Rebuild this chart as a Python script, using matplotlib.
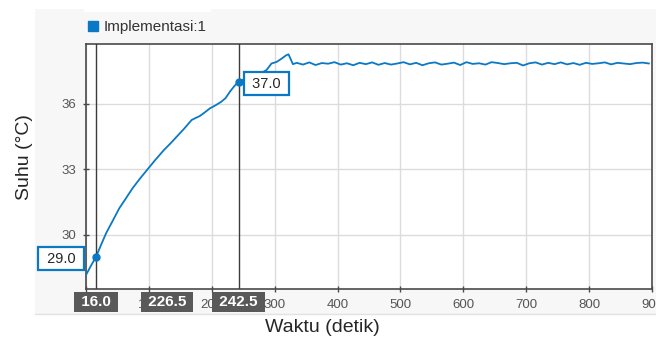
import matplotlib.pyplot as plt
from matplotlib.lines import Line2D
from matplotlib.patches import Rectangle
import matplotlib.transforms as mtransforms

plt.rcParams['font.family'] = ['Liberation Sans', 'DejaVu Sans']

# Data suhu
nama_seri = 'Implementasi:1'
waktu_naik = [0, 8, 16, 24, 32, 42, 53, 63, 74, 86, 98, 110, 124, 135, 144, 156,
              168, 175, 181, 189, 197, 206, 215, 222, 229, 236, 242.5, 255, 270,
              282, 287, 295, 303, 311, 318, 322, 329]
suhu_naik = [28.17, 28.6, 29.0, 29.55, 30.08, 30.62, 31.22, 31.65, 32.13, 32.58,
             33.0, 33.42, 33.88, 34.2, 34.48, 34.85, 35.25, 35.35, 35.43, 35.6,
             35.78, 35.92, 36.08, 36.25, 36.55, 36.8, 37.0, 37.15, 37.3, 37.45,
             37.53, 37.83, 37.9, 38.05, 38.2, 38.25, 37.8]
waktu_stabil = list(range(335, 905, 10))
suhu_stabil = [37.86, 37.78, 37.88, 37.76, 37.85, 37.82, 37.89, 37.78, 37.84, 37.75,
               37.86, 37.80, 37.88, 37.77, 37.85, 37.78, 37.83, 37.89, 37.79, 37.86,
               37.75, 37.84, 37.88, 37.78, 37.82, 37.87, 37.76, 37.89, 37.81, 37.84,
               37.78, 37.89, 37.85, 37.80, 37.84, 37.86, 37.74, 37.84, 37.88, 37.78,
               37.86, 37.80, 37.88, 37.79, 37.85, 37.77, 37.86, 37.81, 37.84, 37.88,
               37.79, 37.86, 37.83, 37.80, 37.85, 37.87, 37.83]
waktu = waktu_naik + waktu_stabil
suhu = suhu_naik + suhu_stabil

# Kursor
kursor_t = [16.0, 242.5]
kursor_suhu = [29.0, 37.0]
kursor_geser = [-35, 28]

biru = '#0a78c4'

fig = plt.figure(figsize=(6.56, 3.4), dpi=100, facecolor='white')
W, H = 656, 340

# panel abu-abu latar
fig.patches.append(Rectangle((35 / W, 1 - 314 / H), 1 - 35 / W, (314 - 9) / H,
                             transform=fig.transFigure, fc='#f7f7f7', ec='none', zorder=-2))
fig.patches.append(Rectangle((84 / W, 1 - 12 / H), (211 - 84) / W, 12 / H,
                             transform=fig.transFigure, fc='white', ec='none', zorder=-1))
fig.add_artist(Line2D([35 / W, 1], [1 - 314 / H, 1 - 314 / H], transform=fig.transFigure,
                      color='#e2e2e2', lw=1))

ax = fig.add_axes([86 / W, 1 - 289 / H, (652 - 86) / W, (289 - 44) / H])
ax.set_facecolor('white')

ax.plot(waktu, suhu, color=biru, lw=1.3, zorder=3)

ax.set_xlim(0, 900)
ax.set_ylim(27.53, 38.72)
ax.set_xticks(range(0, 901, 100))
ax.set_yticks([30, 33, 36])
ax.grid(True, color='#dcdcdc', lw=1)
ax.set_axisbelow(True)
for s in ax.spines.values():
    s.set_color('#4a4a4a')
    s.set_linewidth(1.2)
ax.tick_params(direction='inout', length=5, width=1, color='#4a4a4a',
               labelsize=9.5, labelcolor='#555555', pad=4.5)

ax.set_xlabel('Waktu (detik)', fontsize=14, color='#262626')
ax.set_ylabel('Suhu (°C)', fontsize=14, color='#262626')
ax.xaxis.set_label_coords(0.418, -0.122)
ax.yaxis.set_label_coords(-0.094, 0.537)

# garis kursor, titik dan nilai
for t, v, dx in zip(kursor_t, kursor_suhu, kursor_geser):
    ax.axvline(t, color='#3c3c3c', lw=1, zorder=4)
    ax.plot([t], [v], 'o', color=biru, ms=5, zorder=5, clip_on=False)
    ax.annotate(f' {v:.1f} ', xy=(t, v), xytext=(dx, -2), textcoords='offset pixels',
                ha='center', va='center', fontsize=10.5, color='#262626',
                bbox=dict(boxstyle='square,pad=0.3', fc='white', ec=biru, lw=1.6),
                annotation_clip=False, zorder=6)

# label waktu kursor di bawah sumbu
trans = mtransforms.blended_transform_factory(ax.transData, ax.transAxes)
label_bawah = [(kursor_t[0], kursor_t[0]),
               ((kursor_t[0] + kursor_t[1]) / 2, kursor_t[1] - kursor_t[0]),
               (kursor_t[1], kursor_t[1])]
for x, nilai in label_bawah:
    ax.annotate(f' {nilai:.1f} ', xy=(x, 0), xycoords=trans, xytext=(0, -13),
                textcoords='offset pixels', ha='center', va='center',
                fontsize=11, fontweight='bold', color='white',
                bbox=dict(boxstyle='square,pad=0.18', fc='#595959', ec='none'),
                annotation_clip=False, zorder=7)

# legenda
h = Line2D([], [], marker='s', color=biru, ls='', ms=7)
ax.legend([h], [nama_seri], loc='lower left', bbox_to_anchor=(-0.014, 1.0),
          frameon=False, fontsize=11, handlelength=0.6, handletextpad=0.4,
          borderaxespad=0.25, labelcolor='#333333')

plt.savefig('out.png', dpi=100)
